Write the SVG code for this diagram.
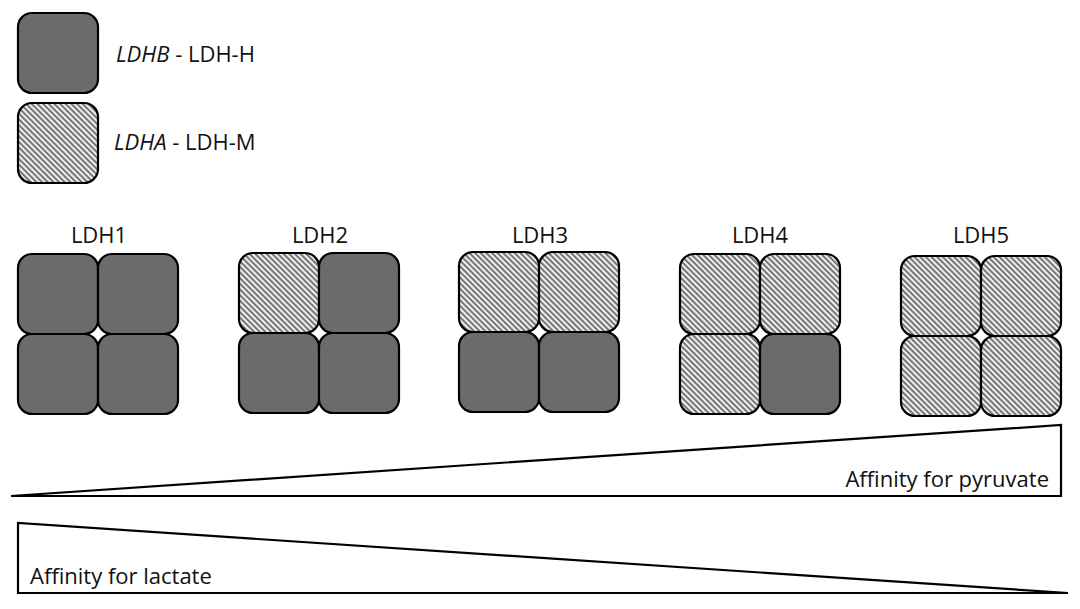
<svg xmlns="http://www.w3.org/2000/svg" width="1080" height="609" viewBox="0 0 1080 609">
<defs>
<pattern id="hatch" patternUnits="userSpaceOnUse" width="4" height="4" patternTransform="rotate(-45)">
<rect width="4" height="4" fill="#eeeeee"/>
<rect width="2" height="4" fill="#777777"/>
</pattern>
</defs>
<style>
.h{fill:#6b6b6b;stroke:#000;stroke-width:2.2}
.m{fill:url(#hatch);stroke:#000;stroke-width:2.2}
text{font-family:"Open Sans","Noto Sans",sans-serif;font-size:22px;fill:#111}
.tri{fill:#fff;stroke:#000;stroke-width:2.2;stroke-linejoin:miter}
</style>
<rect width="1080" height="609" fill="#fff"/>
<g id="legend-h">
<rect class="h" x="18" y="13" width="80" height="80" rx="14"/>
<text x="116" y="62"><tspan font-style="italic">LDHB</tspan> - LDH-H</text>
</g>
<g id="legend-m">
<rect class="m" x="18" y="103" width="80" height="80" rx="14"/>
<text x="114" y="150"><tspan font-style="italic">LDHA</tspan> - LDH-M</text>
</g>
<g id="ldh1">
<text x="99" y="243" text-anchor="middle">LDH1</text>
<rect class="h" x="18" y="254" width="80" height="80" rx="14"/>
<rect class="h" x="98" y="254" width="80" height="80" rx="14"/>
<rect class="h" x="18" y="334" width="80" height="80" rx="14"/>
<rect class="h" x="98" y="334" width="80" height="80" rx="14"/>
</g>
<g id="ldh2">
<text x="320" y="243" text-anchor="middle">LDH2</text>
<rect class="m" x="239" y="253" width="80" height="80" rx="14"/>
<rect class="h" x="319" y="253" width="80" height="80" rx="14"/>
<rect class="h" x="239" y="333" width="80" height="80" rx="14"/>
<rect class="h" x="319" y="333" width="80" height="80" rx="14"/>
</g>
<g id="ldh3">
<text x="540" y="243" text-anchor="middle">LDH3</text>
<rect class="m" x="459" y="252" width="80" height="80" rx="14"/>
<rect class="m" x="539" y="252" width="80" height="80" rx="14"/>
<rect class="h" x="459" y="332" width="80" height="80" rx="14"/>
<rect class="h" x="539" y="332" width="80" height="80" rx="14"/>
</g>
<g id="ldh4">
<text x="760" y="243" text-anchor="middle">LDH4</text>
<rect class="m" x="680" y="254" width="80" height="80" rx="14"/>
<rect class="m" x="760" y="254" width="80" height="80" rx="14"/>
<rect class="m" x="680" y="334" width="80" height="80" rx="14"/>
<rect class="h" x="760" y="334" width="80" height="80" rx="14"/>
</g>
<g id="ldh5">
<text x="981" y="243" text-anchor="middle">LDH5</text>
<rect class="m" x="901" y="256" width="80" height="80" rx="14"/>
<rect class="m" x="981" y="256" width="80" height="80" rx="14"/>
<rect class="m" x="901" y="336" width="80" height="80" rx="14"/>
<rect class="m" x="981" y="336" width="80" height="80" rx="14"/>
</g>
<g id="pyruvate">
<polygon class="tri" points="11,496 1061,425 1061,496"/>
<text x="1049" y="487" text-anchor="end">Affinity for pyruvate</text>
</g>
<g id="lactate">
<polygon class="tri" points="18,523 18,593 1068,593"/>
<text x="30" y="584">Affinity for lactate</text>
</g>
</svg>
